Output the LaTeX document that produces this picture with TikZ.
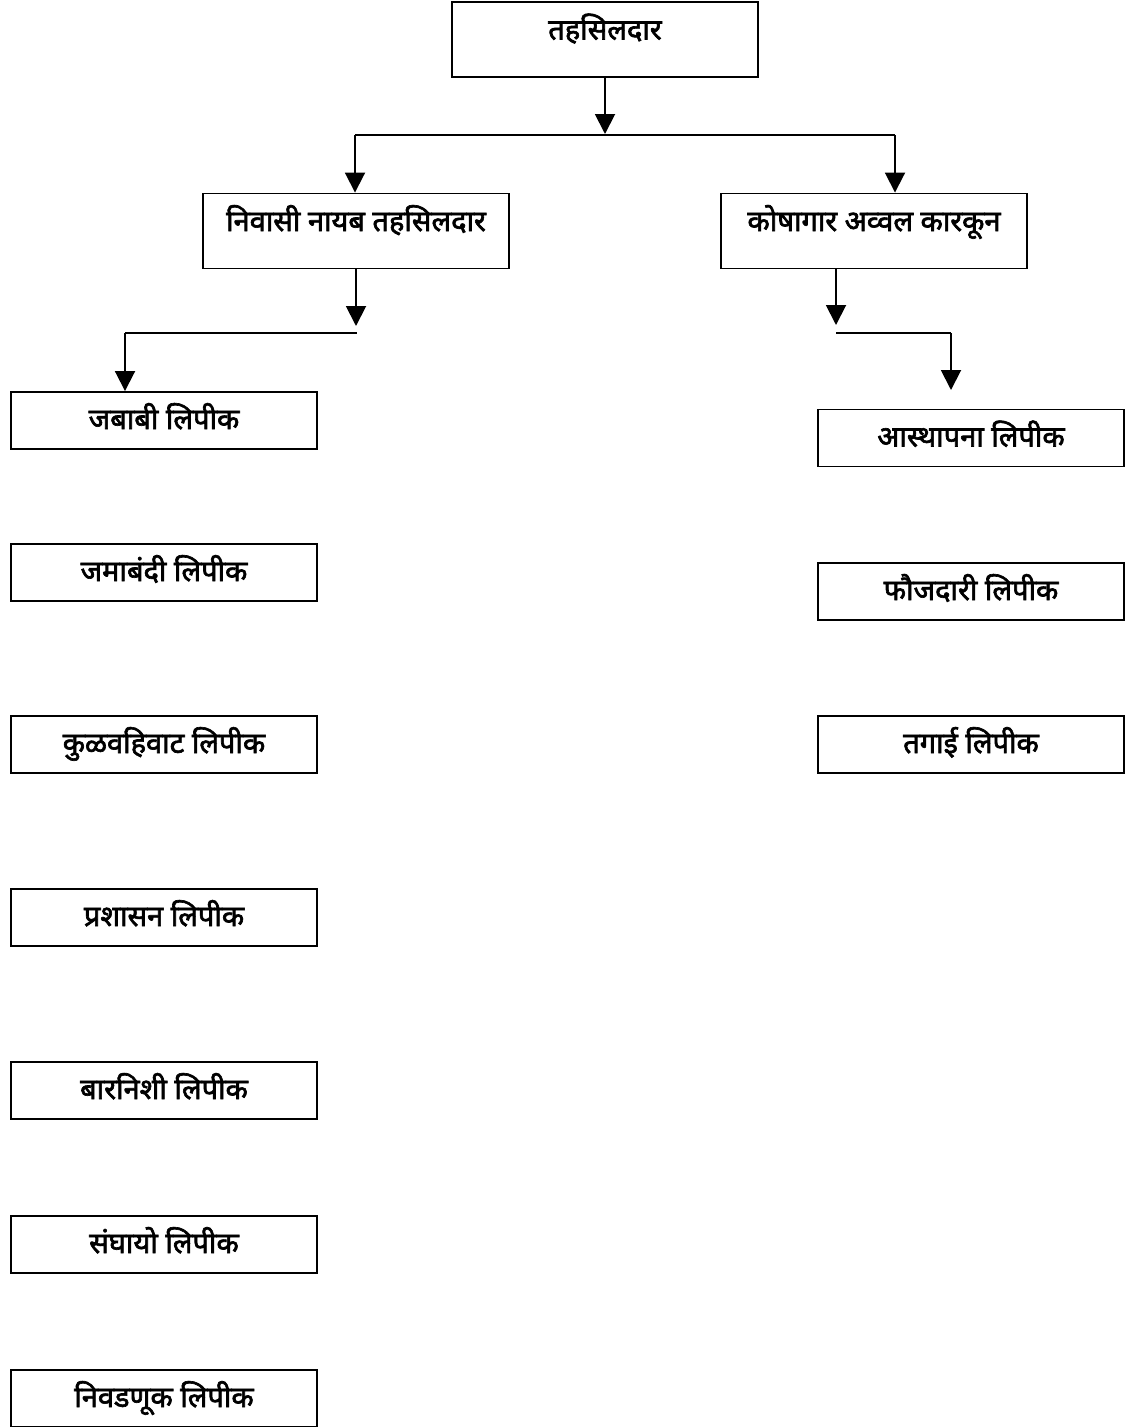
\documentclass[tikz,border=0pt]{standalone}
\usepackage{fontspec}
\newfontfamily\deva[Script=Devanagari, AutoFakeBold=2.2]{Noto Sans}
\usetikzlibrary{arrows.meta, positioning}

\begin{document}
\begin{tikzpicture}[
    x=0.02cm, y=-0.02cm,
    office/.style={rectangle, draw, line width=1.1pt, minimum width=6.12cm, minimum height=1.5cm, inner sep=0pt, font=\deva\bfseries\fontsize{16.5}{19}\selectfont, text height=0.75cm, text depth=0.75cm},
    clerk/.style={rectangle, draw, line width=1.1pt, minimum width=6.12cm, minimum height=1.14cm, inner sep=0pt, font=\deva\bfseries\fontsize{16.5}{19}\selectfont, text height=0.5cm, text depth=0.16cm},
    link/.style={line width=1.1pt},
    >={Triangle[length=0.4cm, width=0.4cm]}
]
\useasboundingbox (0,0) rectangle (1134,1427);

% Top level
\node[office] (tah) at (605, 39.5) {तहसिलदार};

% Second level
\node[office] (niv) at (356, 231) {निवासी नायब तहसिलदार};
\node[office] (kosh) at (874, 231) {कोषागार अव्वल कारकून};

% Clerks under niv
\node[clerk] (jab) at (164, 420.5) {जबाबी लिपीक};
\node[clerk] (jam) at (164, 572.5) {जमाबंदी लिपीक};
\node[clerk] (kul) at (164, 744.5) {कुळवहिवाट लिपीक};
\node[clerk] (pra) at (164, 917.5) {प्रशासन लिपीक};
\node[clerk] (bar) at (164, 1090.5) {बारनिशी लिपीक};
\node[clerk] (san) at (164, 1244.5) {संघायो लिपीक};
\node[clerk] (niva) at (164, 1398.5) {निवडणूक लिपीक};

% Clerks under kosh
\node[clerk] (aas) at (971, 438) {आस्थापना लिपीक};
\node[clerk] (fau) at (971, 591.5) {फौजदारी लिपीक};
\node[clerk] (tag) at (971, 744.5) {तगाई लिपीक};

% Junction points
\coordinate (split) at (605, 134);
\coordinate (lsplit) at (355, 135);
\coordinate (rsplit) at (895, 135);
\coordinate (nivend) at (356, 326);
\coordinate (nivleft) at (125, 333);
\coordinate (nivright) at (357, 333);
\coordinate (koshend) at (836, 325);
\coordinate (koshleft) at (836, 333);
\coordinate (koshright) at (951, 333);
\coordinate (koshdown) at (951, 390);

% Edges: top level
\draw[link, ->] (tah) -- (split);
\draw[link] (lsplit) -- (rsplit);
\draw[link, ->] (lsplit) -- (lsplit |- niv.north);
\draw[link, ->] (rsplit) -- (rsplit |- kosh.north);

% Edges: niv branch
\draw[link, ->] (niv) -- (nivend);
\draw[link] (nivleft) -- (nivright);
\draw[link, ->] (nivleft) -- (nivleft |- jab.north);

% Edges: kosh branch
\draw[link, ->] (koshend |- kosh.south) -- (koshend);
\draw[link] (koshleft) -- (koshright);
\draw[link, ->] (koshright) -- (koshdown);

\end{tikzpicture}
\end{document}
